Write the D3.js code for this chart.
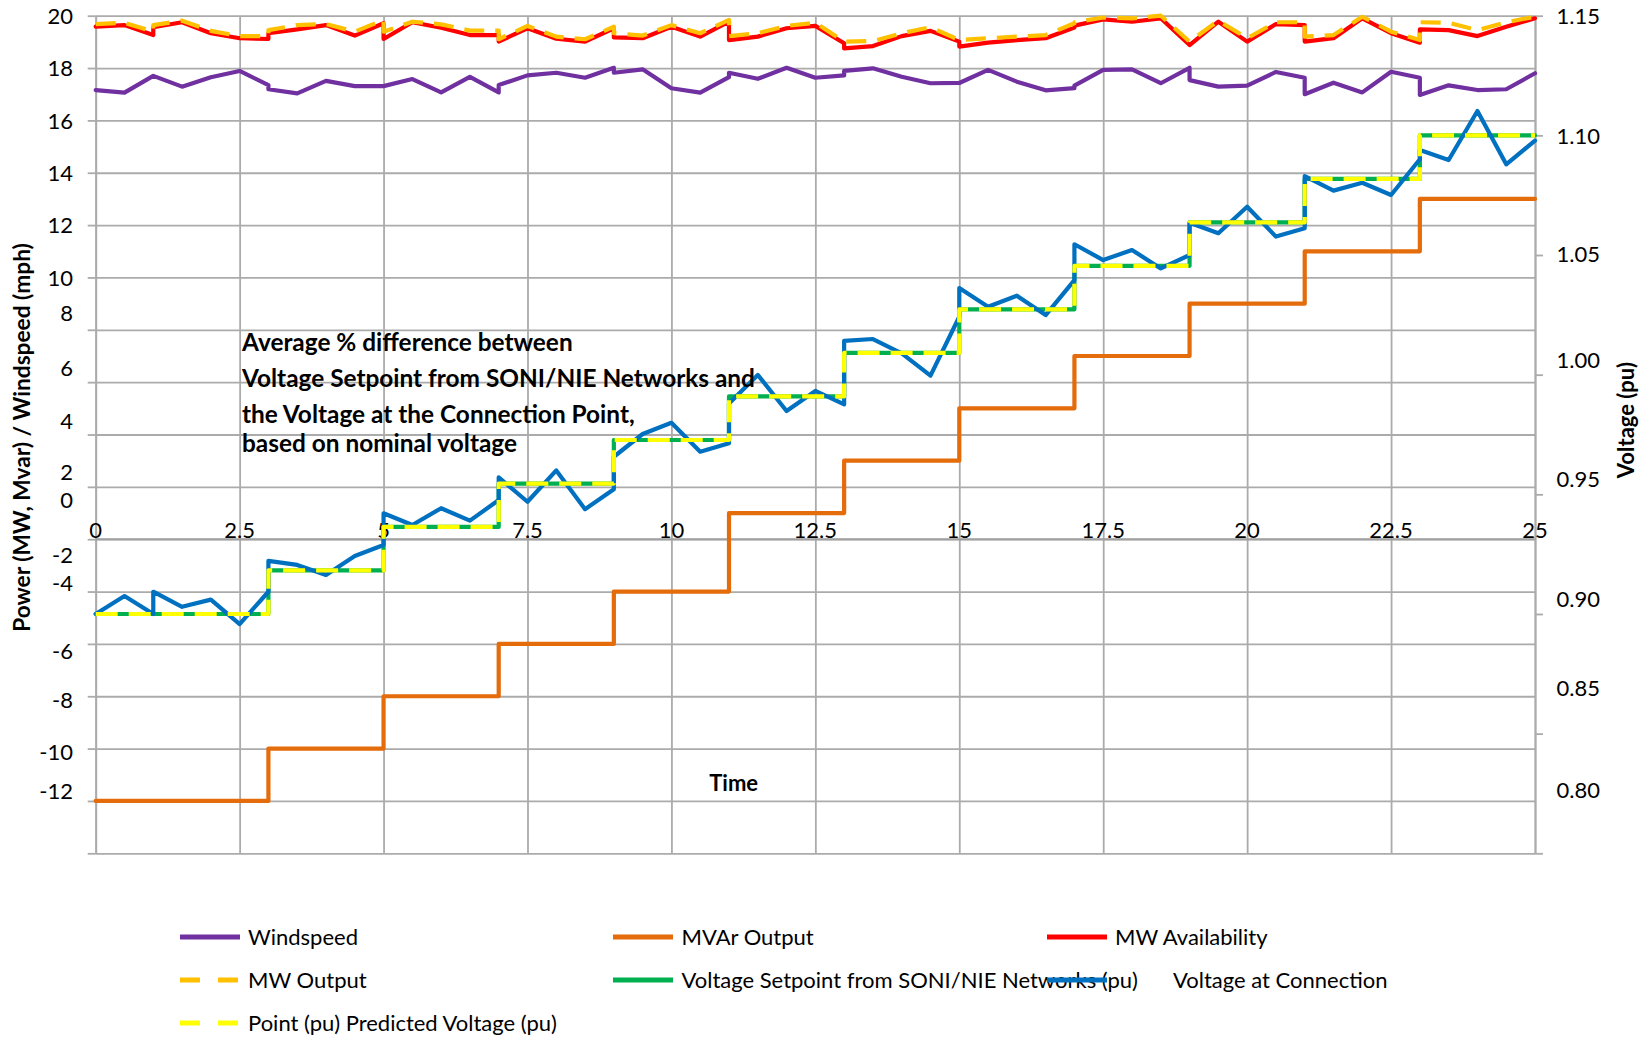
<!DOCTYPE html>
<html><head><meta charset="utf-8">
<script src="https://cdn.jsdelivr.net/npm/d3@7"></script>
<style>
html,body{margin:0;padding:0;background:#fff;}
svg{display:block;font-family:Lato,"Open Sans",sans-serif;}
</style></head><body>
<svg id="chart" width="1641" height="1037"></svg>
<script>
// ---------------- DATA ----------------
const time = [0,0.5,1,1,1.5,2,2.5,3,3,3.5,4,4.5,5,5,5.5,6,6.5,7,7,7.5,8,8.5,9,9,9.5,10,10.5,11,11,11.5,12,12.5,13,13,13.5,14,14.5,15,15,15.5,16,16.5,17,17,17.5,18,18.5,19,19,19.5,20,20.5,21,21,21.5,22,22.5,23,23,23.5,24,24.5,25];

const windspeed = [17.16,17.06,17.70,17.70,17.29,17.65,17.89,17.35,17.19,17.03,17.51,17.31,17.31,17.31,17.58,17.07,17.66,17.07,17.35,17.72,17.82,17.63,18.01,17.82,17.95,17.23,17.06,17.65,17.82,17.59,18.01,17.63,17.72,17.89,17.99,17.67,17.42,17.43,17.43,17.93,17.48,17.15,17.23,17.33,17.93,17.95,17.42,18.01,17.54,17.29,17.33,17.85,17.63,17.00,17.44,17.07,17.86,17.63,16.97,17.34,17.16,17.19,17.80];

const mvarOutput = [-10,-10,-10,-10,-10,-10,-10,-10,-8,-8,-8,-8,-8,-6,-6,-6,-6,-6,-4,-4,-4,-4,-4,-2,-2,-2,-2,-2,1,1,1,1,1,3,3,3,3,3,5,5,5,5,5,7,7,7,7,7,9,9,9,9,9,11,11,11,11,11,13,13,13,13,13];

const mwAvailability = [19.58,19.64,19.26,19.56,19.75,19.33,19.14,19.11,19.33,19.48,19.64,19.24,19.71,19.11,19.75,19.54,19.26,19.26,19.01,19.52,19.12,19.01,19.52,19.17,19.14,19.58,19.20,19.77,19.07,19.20,19.52,19.61,18.95,18.75,18.84,19.22,19.42,19.01,18.82,18.97,19.07,19.14,19.55,19.62,19.86,19.77,19.90,18.88,18.88,19.77,19.01,19.68,19.64,19.01,19.14,19.90,19.33,18.97,19.48,19.45,19.22,19.58,19.90];

const mwOutput = [19.68,19.73,19.39,19.64,19.81,19.42,19.22,19.22,19.45,19.64,19.68,19.39,19.84,19.39,19.77,19.67,19.43,19.43,19.10,19.61,19.20,19.10,19.58,19.33,19.24,19.64,19.33,19.84,19.22,19.33,19.61,19.73,19.01,19.01,19.03,19.33,19.56,19.07,19.07,19.14,19.20,19.26,19.71,19.75,19.93,19.90,20.00,19.01,19.01,19.81,19.14,19.75,19.75,19.20,19.26,19.96,19.39,19.07,19.75,19.73,19.45,19.75,19.96];

const voltageSetpoint = [0.9000,0.9000,0.9000,0.9000,0.9000,0.9000,0.9000,0.9000,0.9182,0.9182,0.9182,0.9182,0.9182,0.9364,0.9364,0.9364,0.9364,0.9364,0.9545,0.9545,0.9545,0.9545,0.9545,0.9727,0.9727,0.9727,0.9727,0.9727,0.9909,0.9909,0.9909,0.9909,0.9909,1.0091,1.0091,1.0091,1.0091,1.0091,1.0273,1.0273,1.0273,1.0273,1.0273,1.0455,1.0455,1.0455,1.0455,1.0455,1.0636,1.0636,1.0636,1.0636,1.0636,1.0818,1.0818,1.0818,1.0818,1.0818,1.1000,1.1000,1.1000,1.1000,1.1000];

const voltageAtConnection = [0.9000,0.9075,0.9000,0.9093,0.9030,0.9060,0.8958,0.9093,0.9222,0.9205,0.9163,0.9242,0.9288,0.9421,0.9372,0.9442,0.9390,0.9476,0.9571,0.9469,0.9600,0.9438,0.9521,0.9657,0.9752,0.9799,0.9678,0.9713,0.9880,0.9999,0.9848,0.9932,0.9876,1.0141,1.0149,1.0089,0.9996,1.0242,1.0362,1.0284,1.0330,1.0249,1.0395,1.0545,1.0479,1.0521,1.0444,1.0500,1.0635,1.0591,1.0702,1.0577,1.0612,1.0830,1.0769,1.0802,1.0751,1.0900,1.0939,1.0897,1.1102,1.0879,1.0978];

const predictedVoltage = [0.9000,0.9000,0.9000,0.9000,0.9000,0.9000,0.9000,0.9000,0.9182,0.9182,0.9182,0.9182,0.9182,0.9364,0.9364,0.9364,0.9364,0.9364,0.9545,0.9545,0.9545,0.9545,0.9545,0.9727,0.9727,0.9727,0.9727,0.9727,0.9909,0.9909,0.9909,0.9909,0.9909,1.0091,1.0091,1.0091,1.0091,1.0091,1.0273,1.0273,1.0273,1.0273,1.0273,1.0455,1.0455,1.0455,1.0455,1.0455,1.0636,1.0636,1.0636,1.0636,1.0636,1.0818,1.0818,1.0818,1.0818,1.0818,1.1000,1.1000,1.1000,1.1000,1.1000];

const xTickValues = [0,2.5,5,7.5,10,12.5,15,17.5,20,22.5,25];
const leftTickValues = [20,18,16,14,12,10,8,6,4,2,0,-2,-4,-6,-8,-10,-12];
const rightTickValues = [1.15,1.10,1.05,1.00,0.95,0.90,0.85,0.80];

const legendLabels = ["Windspeed","MVAr Output","MW Availability","MW Output",
  "Voltage Setpoint from SONI/NIE Networks (pu)","Voltage at Connection",
  "Point (pu) Predicted Voltage (pu)"];

const noteLines = ["Average % difference between",
  "Voltage Setpoint from SONI/NIE Networks and",
  "the Voltage at the Connection Point,",
  "based on nominal voltage"];

// ---------------- LAYOUT ----------------
const L = 95.7, R = 1535, T = 15.7, B = 853.3;
// label text centres (the reference places its labels off the ticks)
const leftLabelY = [15.7,68,120.7,172.7,225.3,277.7,313.3,367.7,421,471.7,500,555,582.7,651,700,752,791];
const rightLabelY = [15.7,136.5,254,360,479,599,688,790.5];
const noteY = [342.5,378.3,414,443];
const gridCol = "#ababab";

const svg = d3.select("#chart");
const x = d3.scaleLinear().domain([0,25]).range([L,R]);
const yL = d3.scaleLinear().domain([-12,20]).range([B,T]);
const yR = d3.scaleLinear().domain([0.80,1.15]).range([B,T]);

// gridlines
svg.append("g").attr("transform",`translate(${L},0)`)
  .call(d3.axisLeft(yL).tickValues(d3.range(-12,21,2)).tickSize(-(R-L)).tickFormat(""))
  .call(g=>g.select(".domain").remove())
  .call(g=>g.selectAll("line").attr("stroke",gridCol).attr("stroke-width",1.8));
svg.append("g").attr("transform",`translate(0,${B})`)
  .call(d3.axisBottom(x).tickValues(xTickValues).tickSize(-(B-T)).tickFormat(""))
  .call(g=>g.select(".domain").remove())
  .call(g=>g.selectAll("line").attr("stroke",gridCol).attr("stroke-width",1.8));

// left axis ticks + line
svg.append("g").attr("transform",`translate(${L},0)`)
  .call(d3.axisLeft(yL).tickValues(d3.range(-12,21,2)).tickSizeInner(8).tickSizeOuter(0).tickFormat(""))
  .call(g=>g.select(".domain").attr("stroke",gridCol).attr("stroke-width",1.8))
  .call(g=>g.selectAll("line").attr("stroke",gridCol).attr("stroke-width",1.8));
// right axis ticks + line
svg.append("g").attr("transform",`translate(${R},0)`)
  .call(d3.axisRight(yR).tickValues(rightTickValues).tickSizeInner(8).tickSizeOuter(0).tickFormat(""))
  .call(g=>g.select(".domain").attr("stroke",gridCol).attr("stroke-width",1.8))
  .call(g=>g.selectAll("line").attr("stroke",gridCol).attr("stroke-width",1.8));
// horizontal axis at 0
svg.append("line").attr("x1",L).attr("x2",R).attr("y1",yL(0)).attr("y2",yL(0))
  .attr("stroke","#a0a0a0").attr("stroke-width",2);

// tick labels
const fs = 22;
svg.append("g").selectAll("text").data(leftTickValues).join("text")
  .attr("x",73).attr("y",(d,i)=>leftLabelY[i]).attr("dy","0.36em")
  .attr("text-anchor","end").attr("font-size",fs).attr("fill","#000").text(d=>d);
svg.append("g").selectAll("text").data(rightTickValues).join("text")
  .attr("x",1600).attr("y",(d,i)=>rightLabelY[i]).attr("dy","0.36em")
  .attr("text-anchor","end").attr("font-size",fs).attr("fill","#000").text(d=>d.toFixed(2));
svg.append("g").selectAll("text").data(xTickValues).join("text")
  .attr("x",d=>x(d)).attr("y",530).attr("dy","0.36em")
  .attr("text-anchor","middle").attr("font-size",fs).attr("fill","#000").text(d=>d);

// axis titles
svg.append("text").attr("transform","translate(22,437.5) rotate(-90)")
  .attr("dy","0.36em").attr("text-anchor","middle").attr("font-weight","bold").attr("font-size",22.7)
  .text("Power (MW, Mvar) / Windspeed (mph)");
svg.append("text").attr("transform","translate(1626,420) rotate(-90)")
  .attr("dy","0.36em").attr("text-anchor","middle").attr("font-weight","bold").attr("font-size",fs)
  .text("Voltage (pu)");
svg.append("text").attr("x",733.7).attr("y",783).attr("dy","0.36em")
  .attr("text-anchor","middle").attr("font-weight","bold").attr("font-size",fs).text("Time");

// series
const idx = d3.range(time.length);
function drawLine(values, yScale, color, dash, w){
  const line = d3.line().x(i=>x(time[i])).y(i=>yScale(values[i]));
  svg.append("path").datum(idx).attr("d",line).attr("fill","none")
    .attr("stroke",color).attr("stroke-width",w||4.2)
    .attr("stroke-linejoin","round").attr("stroke-linecap",dash?"butt":"round")
    .attr("stroke-dasharray",dash||null);
}
const series = [
  {v:windspeed, s:yL, c:"#7030A0"},
  {v:mvarOutput, s:yL, c:"#E46C0A"},
  {v:mwAvailability, s:yL, c:"#FF0000"},
  {v:mwOutput, s:yL, c:"#FFC000", d:"20,11"},
  {v:voltageSetpoint, s:yR, c:"#00B050"},
  {v:voltageAtConnection, s:yR, c:"#0070C0"},
  {v:predictedVoltage, s:yR, c:"#FFFF00", d:"22,11"}
];
series.forEach(o=>drawLine(o.v,o.s,o.c,o.d));

// annotation
svg.append("g").selectAll("text").data(noteLines).join("text")
  .attr("x",242).attr("y",(d,i)=>noteY[i]).attr("dy","0.36em")
  .attr("font-weight","bold").attr("font-size",24.4).attr("fill","#000").text(d=>d);

// legend
const legendPos = [
  {sx:180,tx:248,y:937},{sx:613,tx:681.5,y:937},{sx:1047,tx:1115,y:937},
  {sx:180,tx:248,y:980},{sx:613,tx:681.5,y:980},{sx:1047,tx:1173,y:980},
  {sx:180,tx:248,y:1023}
];
const legOrder = [0,1,2,3,4,5,6];
const lg = svg.append("g");
legOrder.forEach((si,k)=>{
  const o = series[si], p = legendPos[k];
  lg.append("line").attr("x1",p.sx).attr("x2",p.sx+60).attr("y1",p.y).attr("y2",p.y)
    .attr("stroke",o.c).attr("stroke-width",5).attr("stroke-dasharray",o.d?"20,18":null);
  lg.append("text").attr("x",p.tx).attr("y",p.y).attr("dy","0.36em")
    .attr("font-size",fs).attr("fill","#000").text(legendLabels[k]);
});
</script>
</body></html>
